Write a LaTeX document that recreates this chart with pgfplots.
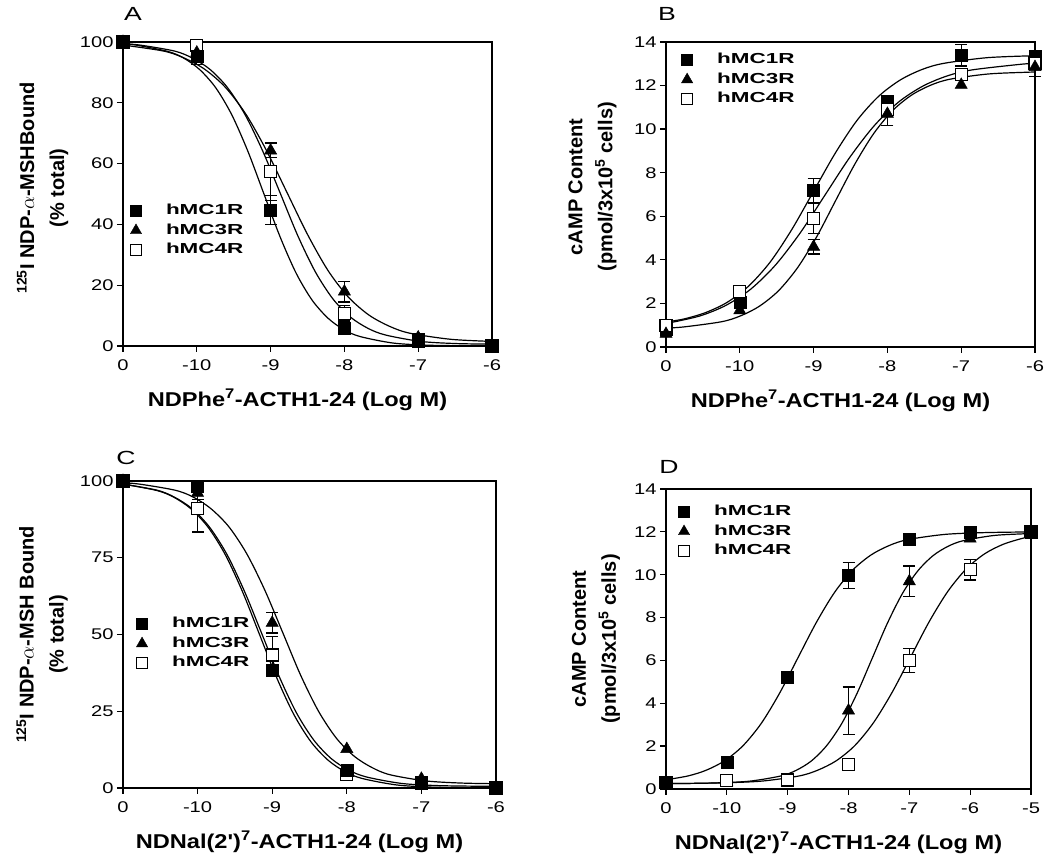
\documentclass[border=0pt]{standalone}
\usepackage{fontspec}
\setmainfont{Liberation Sans}
\newfontfamily\tickf{Liberation Sans}[FakeStretch=1.3]
\newfontfamily\labf{Liberation Sans}[FakeStretch=1.18]
\newfontfamily\legf{Liberation Sans}[FakeStretch=1.55]
\newfontfamily\letf{Liberation Sans}[FakeStretch=1.4]
\usepackage{pgfplots}
\pgfplotsset{compat=1.18}
\pgfplotsset{
 panel/.style={
  scale only axis, anchor=south west, clip=false,
  axis line style={line width=1.3pt},
  every tick/.style={black, line width=1.3pt},
  tick align=outside, major tick length=6pt,
  xtick pos=left, ytick pos=left,
  /pgf/number format/assume math mode=true,
  tick label style={font=\tickf\fontsize{15.5}{18}\selectfont},
  xticklabel style={yshift=-4pt},
  xlabel style={font=\labf\bfseries\fontsize{20}{24}\selectfont, at={(axis description cs:0.5,0)}, anchor=center, yshift=-54pt, xshift=-10pt},
  ylabel style={font=\bfseries\fontsize{20}{30}\selectfont, align=center, anchor=center},
  legend style={draw=none, fill=none, inner sep=0pt, outer sep=0pt, anchor=north west, row sep=7pt,
    font=\legf\bfseries\fontsize{14.5}{17}\selectfont, nodes={inner sep=0pt, text height=10pt, text depth=2.5pt}},
  legend cell align=left,
  legend image code/.code={\path[draw=none, fill=none] (0pt,-5pt) rectangle (36pt,5pt); \draw[##1] plot coordinates {(6pt,0pt)};},
 },
 cv/.style={forget plot, black, line width=1.2pt, smooth, no marks},
 eb/.style={forget plot, only marks, mark=none, error bars/.cd, y dir=both, y explicit,
   error bar style={draw=black, line width=1.2pt, solid},
   error mark options={draw=black, rotate=90, mark size=6pt, line width=1.2pt}},
 m1/.style={forget plot, only marks, mark=square*, mark size=6pt, mark options={draw=black, fill=black, line width=0.5pt, solid}},
 m3/.style={forget plot, only marks, mark=triangle*, mark size=7pt, mark options={draw=black, fill=black, line width=0.5pt, solid}},
 m4/.style={forget plot, only marks, mark=square*, mark size=6pt, mark options={draw=black, fill=white, line width=1.3pt, solid}},
}
\newcommand{\threelegend}{%
 \addlegendimage{only marks, mark=square*, mark size=5.5pt, mark options={draw=black, fill=black}}
 \addlegendentry{hMC1R}
 \addlegendimage{only marks, mark=triangle*, mark size=6.5pt, mark options={draw=black, fill=black}}
 \addlegendentry{hMC3R}
 \addlegendimage{only marks, mark=square*, mark size=5.5pt, mark options={draw=black, fill=white, line width=1.2pt}}
 \addlegendentry{hMC4R}
}
\begin{document}
\begin{tikzpicture}
\path[use as bounding box] (0pt,0pt) rectangle (1050pt,861pt);
% ---------------- Panel A
\begin{axis}[panel, at={(123pt,515pt)}, width=369pt, height=304pt,
  xmin=0, xmax=5, ymin=0, ymax=100,
  xtick={0,1,2,3,4,5}, xticklabels={0,-10,-9,-8,-7,-6},
  ytick={0,20,40,60,80,100},
  xlabel={NDPhe\textsuperscript{7}-ACTH1-24 (Log M)},
  ylabel={\textsuperscript{125}I NDP-$\alpha$-MSHBound\\(\% total)},
  ylabel style={at={(axis description cs:-0.218,0.52)}},
  legend style={at={(axis description cs:0.019,0.4655)}}]
\threelegend
\addplot[cv] coordinates {(0,99.4) (0.171,99.0) (0.606,96.9) (0.823,94.7) (1.04,90.9) (1.258,84.9) (1.475,76.0) (1.693,64.0) (1.91,50.0) (2.127,36.0) (2.345,24.0) (2.562,15.1) (2.78,9.1) (2.997,5.3) (3.214,3.1) (3.649,1.0) (4.084,0.3) (4.519,0.1) (5,0.0)};
\addplot[cv] coordinates {(0,99.0) (0.553,97.0) (0.831,94.7) (1.109,91.0) (1.387,85.1) (1.664,76.3) (1.942,64.4) (2.22,50.6) (2.498,36.8) (2.776,24.9) (3.053,16.1) (3.331,10.2) (3.609,6.5) (3.887,4.2) (4.442,2.2) (5,1.5)};
\addplot[cv] coordinates {(0,99.4) (0.225,99.0) (0.701,97.0) (0.94,94.7) (1.178,91.0) (1.416,85.0) (1.654,76.1) (1.892,64.2) (2.13,50.3) (2.368,36.3) (2.606,24.4) (2.844,15.5) (3.082,9.5) (3.32,5.8) (3.559,3.6) (4.035,1.5) (4.511,0.8) (5,0.6)};
\addplot[eb] coordinates {(1,95.2) +- (0,2.5) (2,44.7) +- (0,4.7)};
\addplot[eb] coordinates {(2,64.3) +- (0,2.4) (3,17.9) +- (0,3.4)};
\addplot[eb] coordinates {(2,57.3) +- (0,9.5) (3,10.7) +- (0,2.5)};
\addplot[m4] coordinates {(0,100) (1,98.8) (2,57.3) (3,10.7) (4,2.0) (5,0)};
\addplot[m3] coordinates {(0,100) (1,96.5) (2,64.3) (3,17.9) (4,2.8) (5,0)};
\addplot[m1] coordinates {(0,100) (1,95.2) (2,44.7) (3,5.8) (4,1.7) (5,0)};
\end{axis}
% ---------------- Panel B
\begin{axis}[panel, at={(666pt,514pt)}, width=369pt, height=305pt,
  xmin=0, xmax=5, ymin=0, ymax=14,
  xtick={0,1,2,3,4,5}, xticklabels={0,-10,-9,-8,-7,-6},
  ytick={0,2,4,6,8,10,12,14},
  xlabel={NDPhe\textsuperscript{7}-ACTH1-24 (Log M)},
  ylabel={cAMP Content\\(pmol/3x10\textsuperscript{5} cells)},
  ylabel style={at={(axis description cs:-0.199,0.525)}},
  legend style={at={(axis description cs:0.041,0.962)}}]
\threelegend
\addplot[cv] coordinates {(0,1.15) (0.235,1.28) (0.529,1.57) (0.824,2.04) (1.118,2.79) (1.412,3.90) (1.706,5.40) (2,7.15) (2.294,8.90) (2.588,10.40) (2.882,11.51) (3.176,12.26) (3.471,12.74) (3.765,13.02) (4.353,13.28) (5,13.37)};
\addplot[cv] coordinates {(0,0.87) (0.238,0.92) (0.754,1.16) (1.011,1.43) (1.269,1.88) (1.527,2.59) (1.785,3.65) (2.042,5.06) (2.3,6.73) (2.558,8.39) (2.815,9.80) (3.073,10.86) (3.331,11.57) (3.589,12.02) (3.846,12.29) (4.362,12.53) (4.877,12.61) (5,12.62)};
\addplot[cv] coordinates {(0,1.09) (0.15,1.18) (0.483,1.45) (0.817,1.92) (1.15,2.66) (1.483,3.76) (1.817,5.23) (2.15,6.95) (2.483,8.67) (2.817,10.14) (3.15,11.24) (3.483,11.98) (3.817,12.45) (4.15,12.72) (4.817,12.98) (5,13.01)};
\addplot[eb] coordinates {(2,7.2) +- (0,0.55) (4,13.4) +- (0,0.5) (5,13.35) +- (0,0.25)};
\addplot[eb] coordinates {(2,4.6) +- (0,0.33) (3,10.7) +- (0,0.55) (5,12.85) +- (0,0.42)};
\addplot[eb] coordinates {(2,5.9) +- (0,0.7) (3,10.9) +- (0,0.3)};
\addplot[m1] coordinates {(0,0.8) (1,2.06) (2,7.2) (3,11.3) (4,13.4) (5,13.35)};
\addplot[m4] coordinates {(0,1.0) (1,2.55) (2,5.9) (3,10.9) (4,12.5) (5,13.03)};
\addplot[m3] coordinates {(0,0.6) (1,1.68) (2,4.6) (3,10.7) (4,12.03) (5,12.85)};
\end{axis}
% ---------------- Panel C
\begin{axis}[panel, at={(123pt,73pt)}, width=373pt, height=307pt,
  xmin=0, xmax=5, ymin=0, ymax=100,
  xtick={0,1,2,3,4,5}, xticklabels={0,-10,-9,-8,-7,-6},
  ytick={0,25,50,75,100},
  xlabel={NDNal(2')\textsuperscript{7}-ACTH1-24 (Log M)},
  ylabel={\textsuperscript{125}I NDP-$\alpha$-MSH Bound\\(\% total)},
  ylabel style={at={(axis description cs:-0.217,0.5)}},
  legend style={at={(axis description cs:0.035,0.555)}}]
\threelegend
\addplot[cv] coordinates {(0,99.0) (0.454,96.9) (0.683,94.7) (0.913,90.9) (1.142,84.9) (1.371,76.0) (1.601,64.0) (1.83,50.0) (2.059,36.0) (2.289,24.0) (2.518,15.1) (2.747,9.1) (2.977,5.3) (3.206,3.1) (3.665,1.0) (4.124,0.3) (4.582,0.1) (5,0.0)};
\addplot[cv] coordinates {(0,99.0) (0.458,97.0) (0.692,94.7) (0.925,91.0) (1.159,85.0) (1.393,76.1) (1.626,64.2) (1.86,50.3) (2.094,36.3) (2.327,24.4) (2.561,15.5) (2.795,9.5) (3.028,5.8) (3.262,3.6) (3.729,1.5) (4.196,0.8) (4.664,0.6) (5,0.55)};
\addplot[cv] coordinates {(0,99.4) (0.217,99.0) (0.698,97.0) (0.938,94.8) (1.178,91.0) (1.419,85.1) (1.659,76.3) (1.9,64.5) (2.14,50.7) (2.38,36.8) (2.621,25.0) (2.861,16.2) (3.102,10.3) (3.342,6.6) (3.582,4.3) (4.063,2.3) (4.544,1.6) (5,1.4)};
\addplot[eb] coordinates {(1,91.0) +- (0,7.6) (2,43.3) +- (0,6.0)};
\addplot[eb] coordinates {(1,96.1) +- (0,2.0) (2,53.8) +- (0,3.3)};
\addplot[eb] coordinates {(2,38.5) +- (0,1.5)};
\addplot[m4] coordinates {(0,100) (1,91.0) (2,43.3) (3,4.3) (4,1.5) (5,0)};
\addplot[m3] coordinates {(0,100) (1,96.1) (2,53.8) (3,12.7) (4,3.0) (5,0)};
\addplot[m1] coordinates {(0,100) (1,98.3) (2,38.5) (3,5.7) (4,1.8) (5,0)};
\end{axis}
% ---------------- Panel D
\begin{axis}[panel, at={(666pt,72pt)}, width=365pt, height=300pt,
  xmin=0, xmax=6, ymin=0, ymax=14,
  xtick={0,1,2,3,4,5,6}, xticklabels={0,-10,-9,-8,-7,-6,-5},
  ytick={0,2,4,6,8,10,12,14},
  xlabel={NDNal(2')\textsuperscript{7}-ACTH1-24 (Log M)},
  ylabel={cAMP Content\\(pmol/3x10\textsuperscript{5} cells)},
  ylabel style={at={(axis description cs:-0.192,0.5)}},
  legend style={at={(axis description cs:0.033,0.945)}}]
\threelegend
\addplot[cv] coordinates {(0,0.43) (0.363,0.61) (0.664,0.88) (0.965,1.32) (1.266,2.02) (1.568,3.07) (1.869,4.48) (2.17,6.13) (2.471,7.77) (2.772,9.18) (3.074,10.23) (3.375,10.93) (3.676,11.37) (3.977,11.64) (4.58,11.88) (5.182,11.96) (5.784,11.99) (6,11.99)};
\addplot[cv] coordinates {(0,0.25) (0.39,0.26) (0.89,0.29) (1.39,0.37) (1.89,0.61) (2.14,0.87) (2.39,1.31) (2.64,2.02) (2.89,3.06) (3.14,4.46) (3.39,6.10) (3.64,7.74) (3.89,9.14) (4.14,10.18) (4.39,10.89) (4.64,11.33) (4.89,11.59) (5.39,11.83) (5.89,11.91) (6,11.92)};
\addplot[cv] coordinates {(0,0.26) (0.361,0.26) (0.971,0.29) (1.581,0.37) (2.191,0.61) (2.496,0.88) (2.8,1.32) (3.105,2.03) (3.41,3.09) (3.715,4.50) (4.02,6.15) (4.325,7.80) (4.63,9.21) (4.935,10.27) (5.24,10.98) (5.544,11.42) (5.849,11.69) (6,11.78)};
\addplot[eb] coordinates {(3,9.97) +- (0,0.6)};
\addplot[eb] coordinates {(3,3.66) +- (0,1.1) (4,9.69) +- (0,0.72)};
\addplot[eb] coordinates {(4,6.0) +- (0,0.56) (5,10.23) +- (0,0.48)};
\addplot[m3] coordinates {(0,0.3) (1,0.31) (2,0.34) (3,3.66) (4,9.69) (5,11.68) (6,12.0)};
\addplot[m4] coordinates {(0,0.3) (1,0.39) (2,0.42) (3,1.14) (4,6.0) (5,10.23) (6,12.0)};
\addplot[m1] coordinates {(0,0.31) (1,1.25) (2,5.22) (3,9.97) (4,11.64) (5,11.98) (6,12.0)};
\end{axis}
% panel letters
\node[font=\letf\fontsize{19}{22}\selectfont] at (133pt,847pt) {A};
\node[font=\letf\fontsize{19}{22}\selectfont] at (667pt,847pt) {B};
\node[font=\letf\fontsize{19}{22}\selectfont] at (126pt,403pt) {C};
\node[font=\letf\fontsize{19}{22}\selectfont] at (669pt,394pt) {D};
\end{tikzpicture}
\end{document}
